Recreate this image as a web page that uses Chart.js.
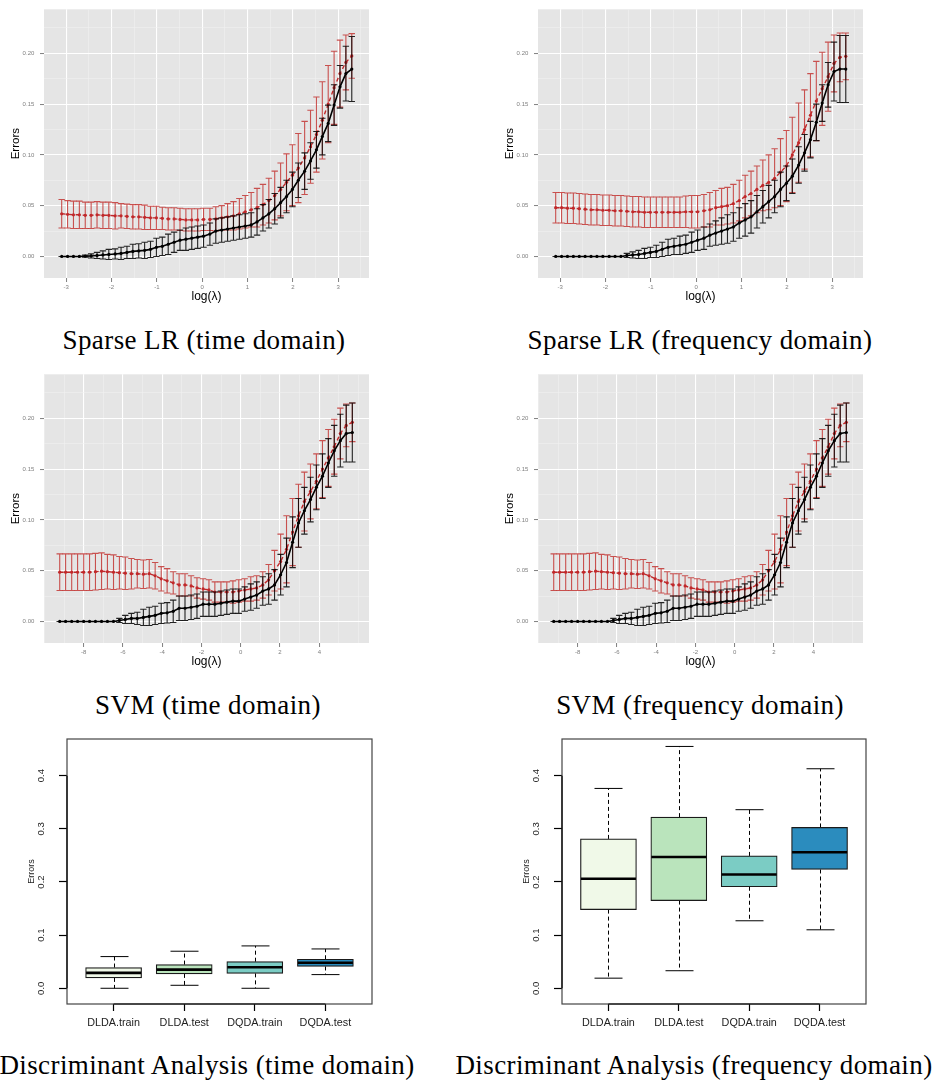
<!DOCTYPE html>
<html>
<head>
<meta charset="utf-8">
<script src="https://cdn.jsdelivr.net/npm/chart.js@4.4.1/dist/chart.umd.min.js"></script>
<style>
  html, body { margin: 0; padding: 0; background: #fff; }
  body { width: 948px; height: 1085px; position: relative; overflow: hidden; }
  canvas { position: absolute; }
  .cap {
    position: absolute; white-space: nowrap; color: #000;
    font-family: "Liberation Serif", "Times New Roman", serif;
    font-size: 27px; line-height: 1; letter-spacing: 0.4px;
    transform: translateX(-50%);
  }
</style>
</head>
<body>
<canvas id="lrTime" width="380" height="310" style="left:0px;top:0px;width:380px;height:310px"></canvas>
<canvas id="lrFreq" width="380" height="310" style="left:494px;top:0px;width:380px;height:310px"></canvas>
<canvas id="svmTime" width="380" height="310" style="left:0px;top:365px;width:380px;height:310px"></canvas>
<canvas id="svmFreq" width="380" height="310" style="left:494px;top:365px;width:380px;height:310px"></canvas>
<canvas id="daTime" width="450" height="320" style="left:0px;top:730px;width:450px;height:320px"></canvas>
<canvas id="daFreq" width="450" height="320" style="left:495px;top:730px;width:450px;height:320px"></canvas>

<div class="cap" style="left:204px;top:327px">Sparse LR (time domain)</div>
<div class="cap" style="left:700px;top:327px">Sparse LR (frequency domain)</div>
<div class="cap" style="left:208px;top:692px">SVM (time domain)</div>
<div class="cap" style="left:700px;top:692px">SVM (frequency domain)</div>
<div class="cap" style="left:207px;top:1052px">Discriminant Analysis (time domain)</div>
<div class="cap" style="left:694px;top:1052px">Discriminant Analysis (frequency domain)</div>

<script>
// ---- log(lambda) grids ----
const lrLogLambda = [
  -3.10, -2.97, -2.84, -2.71, -2.58, -2.45, -2.32, -2.19, -2.06, -1.92,
  -1.79, -1.66, -1.53, -1.40, -1.27, -1.14, -1.01, -0.88, -0.75, -0.62,
  -0.49, -0.36, -0.23, -0.10, 0.03, 0.17, 0.30, 0.43, 0.56, 0.69,
  0.82, 0.95, 1.08, 1.21, 1.34, 1.47, 1.60, 1.73, 1.86, 1.99,
  2.12, 2.26, 2.39, 2.52, 2.65, 2.78, 2.91, 3.04, 3.17, 3.30
];
const svmLogLambda = [
  -9.22, -8.92, -8.61, -8.31, -8.00, -7.70, -7.40, -7.09, -6.79, -6.48,
  -6.18, -5.88, -5.57, -5.27, -4.96, -4.66, -4.36, -4.05, -3.75, -3.44,
  -3.14, -2.84, -2.53, -2.23, -1.92, -1.62, -1.32, -1.01, -0.71, -0.40,
  -0.10, 0.20, 0.51, 0.81, 1.12, 1.42, 1.72, 2.03, 2.33, 2.64,
  2.94, 3.24, 3.55, 3.85, 4.16, 4.46, 4.76, 5.07, 5.37, 5.68
];

// ---- Sparse LR, time domain ----
const lrTimeTrainMean = [
  0, 0, 0, 0, 0.0003, 0.0005, 0.001, 0.0015, 0.002, 0.0025,
  0.003, 0.004, 0.005, 0.0055, 0.006, 0.007, 0.009, 0.010, 0.012, 0.014,
  0.016, 0.017, 0.018, 0.019, 0.020, 0.022, 0.025, 0.026, 0.027, 0.028,
  0.029, 0.030, 0.031, 0.034, 0.038, 0.042, 0.047, 0.053, 0.059, 0.066,
  0.075, 0.084, 0.094, 0.105, 0.118, 0.131, 0.149, 0.167, 0.180, 0.1845
];
const lrTimeTrainSd = [
  0, 0, 0, 0, 0.001, 0.002, 0.003, 0.004, 0.005, 0.005,
  0.006, 0.006, 0.007, 0.007, 0.008, 0.008, 0.009, 0.009, 0.010, 0.010,
  0.010, 0.011, 0.011, 0.011, 0.011, 0.011, 0.012, 0.012, 0.012, 0.012,
  0.012, 0.012, 0.012, 0.013, 0.013, 0.014, 0.015, 0.015, 0.016, 0.017,
  0.017, 0.018, 0.018, 0.018, 0.018, 0.018, 0.020, 0.021, 0.027, 0.032
];
const lrTimeTestMean = [
  0.042, 0.0415, 0.041, 0.041, 0.0405, 0.0405, 0.041, 0.0405, 0.0405, 0.040,
  0.040, 0.0395, 0.039, 0.039, 0.0385, 0.038, 0.038, 0.0375, 0.037, 0.037,
  0.0365, 0.036, 0.036, 0.036, 0.0365, 0.0365, 0.037, 0.038, 0.039, 0.040,
  0.042, 0.044, 0.046, 0.048, 0.051, 0.055, 0.060, 0.066, 0.073, 0.080,
  0.087, 0.097, 0.108, 0.120, 0.134, 0.150, 0.166, 0.180, 0.191, 0.1974
];
const lrTimeTestSd = [
  0.014, 0.0135, 0.0135, 0.0135, 0.013, 0.013, 0.013, 0.013, 0.013, 0.013,
  0.012, 0.012, 0.012, 0.012, 0.012, 0.0115, 0.0115, 0.011, 0.011, 0.011,
  0.011, 0.011, 0.011, 0.011, 0.011, 0.011, 0.012, 0.012, 0.013, 0.014,
  0.015, 0.016, 0.017, 0.019, 0.020, 0.022, 0.024, 0.026, 0.028, 0.030,
  0.034, 0.036, 0.036, 0.037, 0.038, 0.038, 0.036, 0.033, 0.027, 0.022
];

// ---- Sparse LR, frequency domain ----
const lrFreqTrainMean = [
  0, 0, 0, 0, 0, 0, 0, 0, 0, 0,
  0, 0, 0.001, 0.0015, 0.002, 0.003, 0.004, 0.005, 0.007, 0.009,
  0.010, 0.011, 0.012, 0.014, 0.016, 0.018, 0.021, 0.023, 0.025, 0.027,
  0.029, 0.033, 0.036, 0.039, 0.044, 0.049, 0.054, 0.059, 0.066, 0.072,
  0.079, 0.090, 0.102, 0.115, 0.132, 0.151, 0.169, 0.182, 0.1845, 0.1845
];
const lrFreqTrainSd = [
  0, 0, 0, 0, 0, 0, 0, 0, 0, 0,
  0, 0, 0.002, 0.003, 0.004, 0.005, 0.005, 0.006, 0.007, 0.008,
  0.008, 0.009, 0.009, 0.010, 0.010, 0.011, 0.011, 0.012, 0.013, 0.014,
  0.014, 0.015, 0.016, 0.016, 0.016, 0.016, 0.016, 0.016, 0.017, 0.017,
  0.017, 0.018, 0.018, 0.018, 0.018, 0.018, 0.022, 0.029, 0.033, 0.033
];
const lrFreqTestMean = [
  0.048, 0.048, 0.0475, 0.0475, 0.047, 0.0465, 0.046, 0.046, 0.0455, 0.0455,
  0.045, 0.045, 0.0445, 0.044, 0.044, 0.0435, 0.0435, 0.0435, 0.0435, 0.0435,
  0.0435, 0.0435, 0.044, 0.044, 0.044, 0.045, 0.046, 0.048, 0.049, 0.050,
  0.052, 0.055, 0.059, 0.062, 0.066, 0.070, 0.073, 0.077, 0.083, 0.089,
  0.100, 0.112, 0.125, 0.139, 0.153, 0.165, 0.177, 0.190, 0.196, 0.197
];
const lrFreqTestSd = [
  0.015, 0.015, 0.015, 0.015, 0.015, 0.015, 0.015, 0.015, 0.015, 0.015,
  0.015, 0.015, 0.015, 0.015, 0.015, 0.015, 0.015, 0.015, 0.015, 0.015,
  0.015, 0.015, 0.0155, 0.016, 0.016, 0.016, 0.017, 0.017, 0.018, 0.018,
  0.019, 0.020, 0.021, 0.022, 0.023, 0.025, 0.027, 0.029, 0.033, 0.035,
  0.037, 0.039, 0.039, 0.041, 0.039, 0.036, 0.034, 0.028, 0.024, 0.023
];

// ---- SVM, time domain ----
const svmTimeTrainMean = [
  0, 0, 0, 0, 0, 0, 0, 0, 0, 0,
  0.001, 0.002, 0.003, 0.003, 0.004, 0.005, 0.006, 0.008, 0.0085, 0.010,
  0.013, 0.013, 0.014, 0.015, 0.017, 0.017, 0.017, 0.018, 0.019, 0.020,
  0.020, 0.022, 0.024, 0.026, 0.030, 0.032, 0.036, 0.046, 0.058, 0.078,
  0.097, 0.109, 0.120, 0.132, 0.143, 0.156, 0.168, 0.178, 0.185, 0.186
];
const svmTimeTrainSd = [
  0, 0, 0, 0, 0, 0, 0, 0, 0, 0,
  0.002, 0.004, 0.005, 0.006, 0.008, 0.009, 0.009, 0.010, 0.010, 0.011,
  0.012, 0.012, 0.012, 0.012, 0.012, 0.012, 0.012, 0.012, 0.012, 0.012,
  0.012, 0.012, 0.013, 0.013, 0.014, 0.015, 0.015, 0.020, 0.024, 0.025,
  0.024, 0.023, 0.022, 0.022, 0.022, 0.024, 0.025, 0.026, 0.028, 0.029
];
const svmTimeTestMean = [
  0.0485, 0.0485, 0.0485, 0.0485, 0.0485, 0.0485, 0.049, 0.0495, 0.049, 0.0485,
  0.048, 0.0475, 0.047, 0.047, 0.0465, 0.047, 0.045, 0.042, 0.040, 0.038,
  0.036, 0.036, 0.035, 0.033, 0.032, 0.031, 0.029, 0.029, 0.029, 0.029,
  0.030, 0.031, 0.032, 0.033, 0.036, 0.041, 0.050, 0.059, 0.071, 0.088,
  0.104, 0.118, 0.128, 0.138, 0.150, 0.161, 0.172, 0.185, 0.193, 0.196
];
const svmTimeTestSd = [
  0.018, 0.018, 0.018, 0.018, 0.018, 0.018, 0.018, 0.018, 0.017, 0.017,
  0.016, 0.016, 0.015, 0.014, 0.014, 0.014, 0.013, 0.012, 0.012, 0.011,
  0.011, 0.011, 0.010, 0.010, 0.010, 0.010, 0.010, 0.010, 0.010, 0.011,
  0.011, 0.011, 0.012, 0.012, 0.013, 0.015, 0.020, 0.027, 0.033, 0.033,
  0.031, 0.029, 0.027, 0.027, 0.028, 0.028, 0.027, 0.025, 0.021, 0.019
];

// ---- SVM, frequency domain ----
const svmFreqTrainMean = [
  0, 0, 0, 0, 0, 0, 0, 0, 0, 0,
  0.001, 0.002, 0.003, 0.003, 0.004, 0.005, 0.006, 0.008, 0.0085, 0.010,
  0.013, 0.013, 0.014, 0.015, 0.017, 0.017, 0.017, 0.018, 0.019, 0.020,
  0.020, 0.022, 0.024, 0.026, 0.030, 0.032, 0.036, 0.046, 0.058, 0.078,
  0.097, 0.109, 0.120, 0.132, 0.143, 0.156, 0.168, 0.178, 0.185, 0.186
];
const svmFreqTrainSd = [
  0, 0, 0, 0, 0, 0, 0, 0, 0, 0,
  0.002, 0.004, 0.005, 0.006, 0.008, 0.009, 0.009, 0.010, 0.010, 0.011,
  0.012, 0.012, 0.012, 0.012, 0.012, 0.012, 0.012, 0.012, 0.012, 0.012,
  0.012, 0.012, 0.013, 0.013, 0.014, 0.015, 0.015, 0.020, 0.024, 0.025,
  0.024, 0.023, 0.022, 0.022, 0.022, 0.024, 0.025, 0.026, 0.028, 0.029
];
const svmFreqTestMean = [
  0.0485, 0.0485, 0.0485, 0.0485, 0.0485, 0.0485, 0.049, 0.0495, 0.049, 0.0485,
  0.048, 0.0475, 0.047, 0.047, 0.0465, 0.047, 0.045, 0.042, 0.040, 0.038,
  0.036, 0.036, 0.035, 0.033, 0.032, 0.031, 0.029, 0.029, 0.029, 0.029,
  0.030, 0.031, 0.032, 0.033, 0.036, 0.041, 0.050, 0.059, 0.071, 0.088,
  0.104, 0.118, 0.128, 0.138, 0.150, 0.161, 0.172, 0.185, 0.193, 0.196
];
const svmFreqTestSd = [
  0.018, 0.018, 0.018, 0.018, 0.018, 0.018, 0.018, 0.018, 0.017, 0.017,
  0.016, 0.016, 0.015, 0.014, 0.014, 0.014, 0.013, 0.012, 0.012, 0.011,
  0.011, 0.011, 0.010, 0.010, 0.010, 0.010, 0.010, 0.010, 0.010, 0.011,
  0.011, 0.011, 0.012, 0.012, 0.013, 0.015, 0.020, 0.027, 0.033, 0.033,
  0.031, 0.029, 0.027, 0.027, 0.028, 0.028, 0.027, 0.025, 0.021, 0.019
];

// ---- Discriminant analysis box plots ----
const daGroups = ['DLDA.train', 'DLDA.test', 'DQDA.train', 'DQDA.test'];
const daFill = ['#F0F9E8', '#BAE4BC', '#7BCCC4', '#2B8CBE'];
const daTimeMin    = [0.000, 0.0056, 0.000, 0.0257];
const daTimeQ1     = [0.0195, 0.027, 0.028, 0.041];
const daTimeMedian = [0.029, 0.035, 0.0395, 0.048];
const daTimeQ3     = [0.039, 0.0446, 0.050, 0.0546];
const daTimeMax    = [0.0596, 0.0697, 0.0797, 0.074];
const daFreqMin    = [0.019, 0.033, 0.127, 0.110];
const daFreqQ1     = [0.148, 0.165, 0.191, 0.2235];
const daFreqMedian = [0.206, 0.247, 0.214, 0.256];
const daFreqQ3     = [0.281, 0.322, 0.249, 0.3026];
const daFreqMax    = [0.376, 0.455, 0.336, 0.413];

const SANS = '"Liberation Sans", Arial, Helvetica, sans-serif';
Chart.defaults.font.family = SANS;

// grey panel behind the gridlines
const panelBackground = {
  id: 'panelBackground',
  beforeDraw(chart, args, opts) {
    if (!opts.color) return;
    const { ctx, chartArea: a } = chart;
    ctx.save();
    ctx.fillStyle = opts.color;
    ctx.fillRect(a.left, a.top, a.right - a.left, a.bottom - a.top);
    ctx.restore();
  }
};

// mean +/- sd error bars, drawn just before each line dataset
const errorBars = {
  id: 'errorBars',
  beforeDatasetDraw(chart, args) {
    const ds = chart.data.datasets[args.index];
    if (!ds.errors) return;
    const { ctx, scales: { x, y } } = chart;
    ctx.save();
    ctx.strokeStyle = ds.errorColor;
    ctx.lineWidth = 1.1;
    ds.data.forEach((p, i) => {
      const e = ds.errors[i];
      const px = x.getPixelForValue(p.x);
      const top = y.getPixelForValue(p.y + e);
      const bot = y.getPixelForValue(p.y - e);
      ctx.beginPath();
      ctx.moveTo(px, top); ctx.lineTo(px, bot);
      ctx.moveTo(px - 3.2, top); ctx.lineTo(px + 3.2, top);
      ctx.moveTo(px - 3.2, bot); ctx.lineTo(px + 3.2, bot);
      ctx.stroke();
    });
    ctx.restore();
  }
};

const near = (a, b) => Math.abs(a - b) < 1e-7;

function errorChart(id, grid, trainMean, trainSd, testMean, testSd, xMin, xMax, xMinor, xMajor) {
  const lo = grid[0], hi = grid[grid.length - 1];
  const xIsMajor = v => near(v / xMajor, Math.round(v / xMajor)) && v >= lo - 1e-9 && v <= hi + 1e-9;
  const yIsMajor = v => near(v / 0.05, Math.round(v / 0.05)) && v >= -1e-9 && v <= 0.2 + 1e-9;
  const gridColor = isMajor => c => (isMajor(c.tick.value) ? '#FFFFFF' : '#F2F2F2');
  const gridWidth = isMajor => c => (isMajor(c.tick.value) ? 1.1 : 0.55);
  const tickColor = isMajor => c => (isMajor(c.tick.value) ? '#7F7F7F' : 'rgba(0,0,0,0)');

  return new Chart(document.getElementById(id), {
    type: 'line',
    data: {
      datasets: [
        {
          label: 'train',
          data: grid.map((x, i) => ({ x, y: trainMean[i] })),
          errors: trainSd,
          errorColor: 'rgba(0,0,0,0.85)',
          borderColor: '#000000', backgroundColor: '#000000',
          borderWidth: 1.6, pointRadius: 1.6, pointBorderWidth: 0, tension: 0
        },
        {
          label: 'test',
          data: grid.map((x, i) => ({ x, y: testMean[i] })),
          errors: testSd,
          errorColor: 'rgba(192,38,36,0.78)',
          borderColor: '#C0282A', backgroundColor: '#C0282A',
          borderWidth: 1.4, borderDash: [4, 3], pointRadius: 1.6, pointBorderWidth: 0, tension: 0
        }
      ]
    },
    options: {
      responsive: false, animation: false, events: [],
      layout: { padding: { top: 5, right: 11, left: 0, bottom: 0 } },
      plugins: {
        legend: { display: false }, tooltip: { enabled: false },
        panelBackground: { color: '#E5E5E5' }
      },
      scales: {
        x: {
          type: 'linear', min: xMin, max: xMax,
          afterFit: s => { s.height = 32; },
          border: { display: false },
          grid: {
            color: gridColor(xIsMajor), lineWidth: gridWidth(xIsMajor),
            tickColor: tickColor(xIsMajor), tickWidth: 1, tickLength: 4
          },
          ticks: {
            stepSize: xMinor, includeBounds: false, autoSkip: false,
            maxRotation: 0, minRotation: 0, padding: 1.5,
            color: '#7F7F7F', font: { size: 6 },
            callback: v => (xIsMajor(v) ? String(Math.round(v)) : '')
          },
          title: {
            display: true, text: 'log(\u03BB)', color: '#000',
            font: { size: 12 }, padding: { top: 0, bottom: 6 }
          }
        },
        y: {
          type: 'linear', min: -0.0212, max: 0.2433,
          afterFit: s => { s.width = 44; },
          border: { display: false },
          grid: {
            color: gridColor(yIsMajor), lineWidth: gridWidth(yIsMajor),
            tickColor: tickColor(yIsMajor), tickWidth: 1, tickLength: 4
          },
          ticks: {
            stepSize: 0.025, includeBounds: false, autoSkip: false, padding: 5.7,
            color: '#7F7F7F', font: { size: 6 },
            callback: v => (yIsMajor(v) ? v.toFixed(2) : '')
          },
          title: {
            display: true, text: 'Errors', color: '#000',
            font: { size: 11.5 }, padding: { top: 9, bottom: 0 }
          }
        }
      }
    },
    plugins: [panelBackground, errorBars]
  });
}

errorChart('lrTime', lrLogLambda, lrTimeTrainMean, lrTimeTrainSd, lrTimeTestMean, lrTimeTestSd, -3.49, 3.68, 0.5, 1);
errorChart('lrFreq', lrLogLambda, lrFreqTrainMean, lrFreqTrainSd, lrFreqTestMean, lrFreqTestSd, -3.49, 3.68, 0.5, 1);
errorChart('svmTime', svmLogLambda, svmTimeTrainMean, svmTimeTrainSd, svmTimeTestMean, svmTimeTestSd, -10.02, 6.53, 1, 2);
errorChart('svmFreq', svmLogLambda, svmFreqTrainMean, svmFreqTrainSd, svmFreqTestMean, svmFreqTestSd, -10.02, 6.53, 1, 2);

// whiskers, staples, medians, frame and rotated y labels of the box plots
const boxParts = {
  id: 'boxParts',
  beforeDatasetsDraw(chart, args, o) {
    const { ctx, scales: { x, y } } = chart;
    ctx.save();
    ctx.strokeStyle = '#000';
    ctx.lineWidth = 1;
    for (let i = 0; i < o.median.length; i++) {
      const px = Math.round(x.getPixelForValue(i + 1)) + 0.5;
      ctx.setLineDash([4, 3]);
      ctx.beginPath();
      ctx.moveTo(px, y.getPixelForValue(o.q3[i])); ctx.lineTo(px, y.getPixelForValue(o.max[i]));
      ctx.moveTo(px, y.getPixelForValue(o.q1[i])); ctx.lineTo(px, y.getPixelForValue(o.min[i]));
      ctx.stroke();
      ctx.setLineDash([]);
      ctx.beginPath();
      ctx.moveTo(px - 14, y.getPixelForValue(o.max[i])); ctx.lineTo(px + 14, y.getPixelForValue(o.max[i]));
      ctx.moveTo(px - 14, y.getPixelForValue(o.min[i])); ctx.lineTo(px + 14, y.getPixelForValue(o.min[i]));
      ctx.stroke();
    }
    ctx.restore();
  },
  afterDatasetsDraw(chart, args, o) {
    const { ctx, scales: { x, y } } = chart;
    ctx.save();
    ctx.strokeStyle = '#000';
    ctx.lineWidth = 2.6;
    for (let i = 0; i < o.median.length; i++) {
      const px = x.getPixelForValue(i + 1);
      const py = y.getPixelForValue(o.median[i]);
      ctx.beginPath();
      ctx.moveTo(px - 27.5, py); ctx.lineTo(px + 27.5, py);
      ctx.stroke();
    }
    ctx.restore();
  },
  afterDraw(chart) {
    const { ctx, chartArea: a, scales: { x, y } } = chart;
    ctx.save();
    ctx.strokeStyle = '#444';
    ctx.lineWidth = 1.2;
    ctx.strokeRect(a.left, a.top, a.right - a.left, a.bottom - a.top);
    ctx.strokeStyle = '#000';
    const xt = x.ticks.map(t => x.getPixelForValue(t.value));
    const yt = y.ticks.map(t => y.getPixelForValue(t.value));
    ctx.beginPath();
    ctx.moveTo(Math.min(...xt), a.bottom); ctx.lineTo(Math.max(...xt), a.bottom);
    ctx.moveTo(a.left, Math.min(...yt)); ctx.lineTo(a.left, Math.max(...yt));
    ctx.stroke();
    ctx.fillStyle = '#222';
    ctx.font = '9.6px ' + SANS;
    ctx.textAlign = 'center';
    ctx.textBaseline = 'middle';
    y.ticks.forEach(t => {
      ctx.save();
      ctx.translate(a.left - 26, y.getPixelForValue(t.value));
      ctx.rotate(-Math.PI / 2);
      ctx.fillText(t.value.toFixed(1), 0, 0);
      ctx.restore();
    });
    ctx.restore();
  }
};

function boxChart(id, mins, q1, med, q3, maxs, rightPad) {
  return new Chart(document.getElementById(id), {
    type: 'bar',
    data: {
      datasets: [{
        data: daGroups.map((g, i) => ({ x: i + 1, y: [q1[i], q3[i]] })),
        backgroundColor: daFill,
        borderColor: '#1A1A1A', borderWidth: 1.2, borderSkipped: false,
        barThickness: 56
      }]
    },
    options: {
      responsive: false, animation: false, events: [],
      layout: { padding: { top: 9, right: rightPad, left: 0, bottom: 0 } },
      plugins: {
        legend: { display: false }, tooltip: { enabled: false },
        boxParts: { min: mins, q1: q1, median: med, q3: q3, max: maxs }
      },
      scales: {
        x: {
          type: 'linear', min: 0.34, max: 4.66, offset: false,
          afterFit: s => { s.height = 46; },
          border: { display: false },
          grid: { offset: false, drawOnChartArea: false, tickColor: '#000', tickWidth: 1.2, tickLength: 7 },
          ticks: {
            stepSize: 1, includeBounds: false, autoSkip: false, maxRotation: 0, padding: 6,
            color: '#222', font: { size: 10.8 },
            callback: v => daGroups[Math.round(v) - 1] || ''
          }
        },
        y: {
          type: 'linear', min: -0.0296, max: 0.469,
          afterFit: s => { s.width = 67; },
          border: { display: false },
          grid: { drawOnChartArea: false, tickColor: '#000', tickWidth: 1.2, tickLength: 8 },
          ticks: { stepSize: 0.1, includeBounds: false, display: false },
          title: {
            display: true, text: 'Errors', color: '#222',
            font: { size: 9 }, padding: { top: 26, bottom: 0 }
          }
        }
      }
    },
    plugins: [boxParts]
  });
}

boxChart('daTime', daTimeMin, daTimeQ1, daTimeMedian, daTimeQ3, daTimeMax, 78);
boxChart('daFreq', daFreqMin, daFreqQ1, daFreqMedian, daFreqQ3, daFreqMax, 79);
</script>
</body>
</html>
